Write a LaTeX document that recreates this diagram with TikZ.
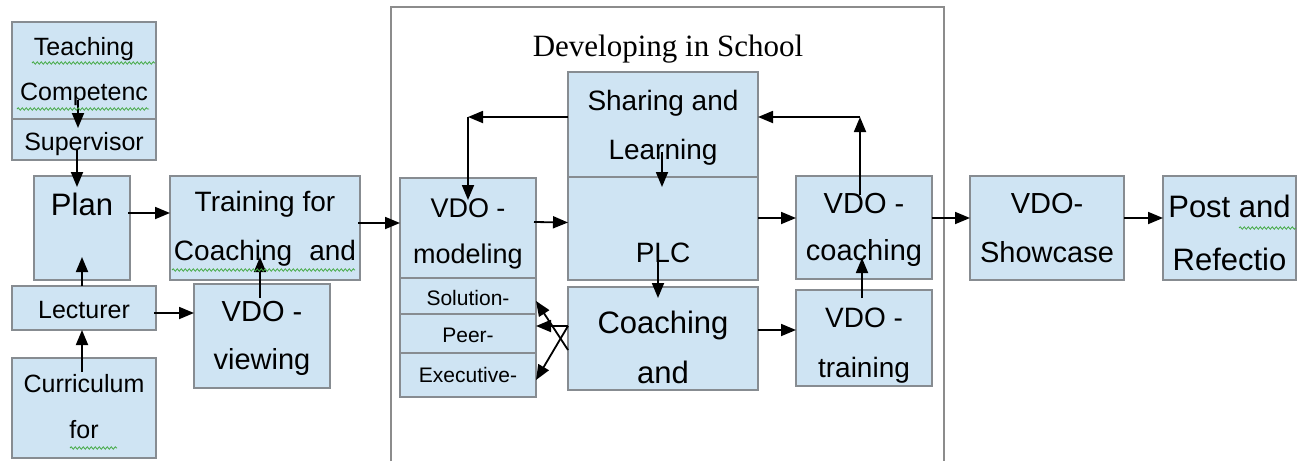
\documentclass[tikz,border=0pt]{standalone}
\usepackage{fontspec}
\setmainfont{Liberation Sans}
\newfontfamily\titlefnt{Liberation Serif}
\usetikzlibrary{positioning,arrows.meta,decorations.pathmorphing}
\definecolor{boxfill}{RGB}{207,228,243}
\definecolor{boxline}{RGB}{135,140,145}
\definecolor{framegray}{RGB}{140,140,140}
\definecolor{wavy}{RGB}{70,170,70}
\newcommand{\fsz}[2]{\fontsize{#1pt}{#2pt}\selectfont}
\tikzset{
  box/.style={draw=boxline, fill=boxfill, line width=1.5pt, inner sep=0pt, outer sep=0pt, align=center},
  sz/.style 2 args={minimum width=#1pt, minimum height=#2pt},
  drop/.style={text height=#1pt, text depth=0pt},
  lift/.style={text height=0pt, text depth=#1pt},
  arr/.style={-{Triangle[length=15pt,width=12pt]}, line width=1.8pt},
  spell/.style={wavy, line width=0.8pt, decorate, decoration={snake, segment length=4pt, amplitude=1.2pt}}
}
\begin{document}
\begin{tikzpicture}[x=1pt,y=-1pt]
\useasboundingbox (0,0) rectangle (1298,461);
% outer frame
\draw[framegray, line width=1.5pt] (391,461) -- (391,7) -- (944,7) -- (944,461);
\node (0) at (668,56) [anchor=base, font=\titlefnt\fsz{31}{36}] {Developing in School};
% left part
\node[box, sz={144}{97}, drop=59, font=\fsz{25}{45}] (1) at (84,70.5) {Teaching\\Competenc};
\node[box, sz={144}{41}, drop=21, font=\fsz{25}{30}] (2) [below=0pt of 1] {Supervisor};
\node[box, sz={96}{104}, lift=26, font=\fsz{31}{46}] (3) at (82,228) {Plan};
\node[box, sz={190}{104}, drop=64, font=\fsz{28}{49}] (4) at (265,228) {Training for\\Coaching\hspace{17pt}and};
\node[box, sz={144}{44}, drop=20, font=\fsz{25}{30}] (5) at (84,308) {Lecturer};
\node[box, sz={136}{104}, drop=66, font=\fsz{29}{48}] (6) at (262,336) {VDO -\\viewing};
\node[box, sz={144}{100}, drop=60, font=\fsz{25}{46}] (7) at (84,408) {Curriculum\\for};
% developing in school
\node[box, sz={136}{100}, drop=70, font=\fsz{27}{46}] (8) at (468,228) {VDO -\\modeling};
\node[box, sz={136}{36}, drop=18, font=\fsz{21}{25}] (9) [below=0pt of 8] {Solution-};
\node[box, sz={136}{39}, drop=17, font=\fsz{21}{25}] (10) [below=0pt of 9] {Peer-};
\node[box, sz={136}{44}, drop=14, font=\fsz{21}{25}] (11) [below=0pt of 10] {Executive-};
\node[box, sz={190}{105}, drop=69, font=\fsz{28}{49}] (12) at (663,124.5) {Sharing and\\Learning};
\node[box, sz={190}{103}, drop=67, font=\fsz{28}{33}] (13) [below=0pt of 12] {PLC};
\node[box, sz={190}{103}, drop=89, font=\fsz{31}{50}] (14) at (663,338.5) {Coaching\\and};
\node[box, sz={136}{103}, drop=65, font=\fsz{29}{47}] (15) at (864,227.5) {VDO -\\coaching};
\node[box, sz={136}{96}, drop=78, font=\fsz{28}{50}] (16) at (864,338) {VDO -\\training};
% right part
\node[box, sz={154}{104}, drop=68, font=\fsz{29}{49}] (17) at (1047,228) {VDO-\\Showcase};
\node[box, sz={133}{104}, drop=84, font=\fsz{31}{53}] (18) at (1229.5,228) {Post and\\Refectio};
\coordinate (c1) at (468,117);
\coordinate (c2) at (860,117);
\draw[arr] ([xshift=-6pt,yshift=19pt]1.south) -- ([xshift=-6pt,yshift=-9pt]2.north);
\draw[arr] ([xshift=-7pt,yshift=10pt]2.south) -- ([xshift=-5pt,yshift=-11pt]3.north);
\draw[arr] ([xshift=-2pt,yshift=15pt]3.east) -- ([yshift=15pt]4.west);
\draw[arr] ([xshift=-2pt,yshift=5pt]4.east) -- ([yshift=5pt]8.west);
\draw[arr] (5.north -| 3.south) -- ([yshift=23pt]3.south);
\draw[arr] ([xshift=-2pt,yshift=-14pt]7.north) -- ([xshift=-2pt]5.south);
\draw[arr] ([xshift=-2pt,yshift=-5pt]5.east) -- ([yshift=23pt]6.west);
\draw[arr] ([xshift=-2pt,yshift=-14pt]6.north) -- ([xshift=-5pt,yshift=23pt]4.south);
\draw[arr] (12.west |- c1) -- (c1);
\draw[arr] (c1) -- ([yshift=-22pt]8.north);
\draw[arr] ([xshift=-1pt,yshift=25pt]12.south) -- ([xshift=-1pt,yshift=-10pt]13.north);
\draw[arr] ([xshift=-5pt,yshift=18pt]13.south) -- ([xshift=-5pt,yshift=-11pt]14.north);
\draw[arr] ([xshift=-2pt,yshift=6pt]8.east) -- ([yshift=6pt]13.west);
\draw[arr] ([yshift=12.5pt]14.west) -- ([yshift=7.5pt]10.east);
\draw[arr] ([yshift=12.5pt]14.west) -- ([yshift=-5pt]11.east);
\draw[arr] ([yshift=-11.5pt]14.west) -- ([yshift=-5pt]9.east);
\draw[arr] ([yshift=10.5pt]13.east) -- ([yshift=9.5pt]15.west);
\draw[arr] ([yshift=8.5pt]14.east) -- ([yshift=8pt]16.west);
\draw[arr] ([xshift=-2pt,yshift=-8pt]16.north) -- ([xshift=-2pt,yshift=21pt]15.south);
\draw[arr] ([xshift=-4pt,yshift=-19pt]15.north) -- (c2);
\draw[arr] (c2) -- (12.east |- c2);
\draw[arr] ([yshift=9.5pt]15.east) -- ([yshift=10pt]17.west);
\draw[arr] ([yshift=10pt]17.east) -- ([yshift=10pt]18.west);
% spelling marks
\draw[spell] (32,63) -- (155,63);
\draw[spell] (17,109) -- (149,109);
\draw[spell] (172,270) -- (355,270);
\draw[spell] (70,448) -- (117,448);
\draw[spell] (1239,228) -- (1296,228);
\end{tikzpicture}
\end{document}
